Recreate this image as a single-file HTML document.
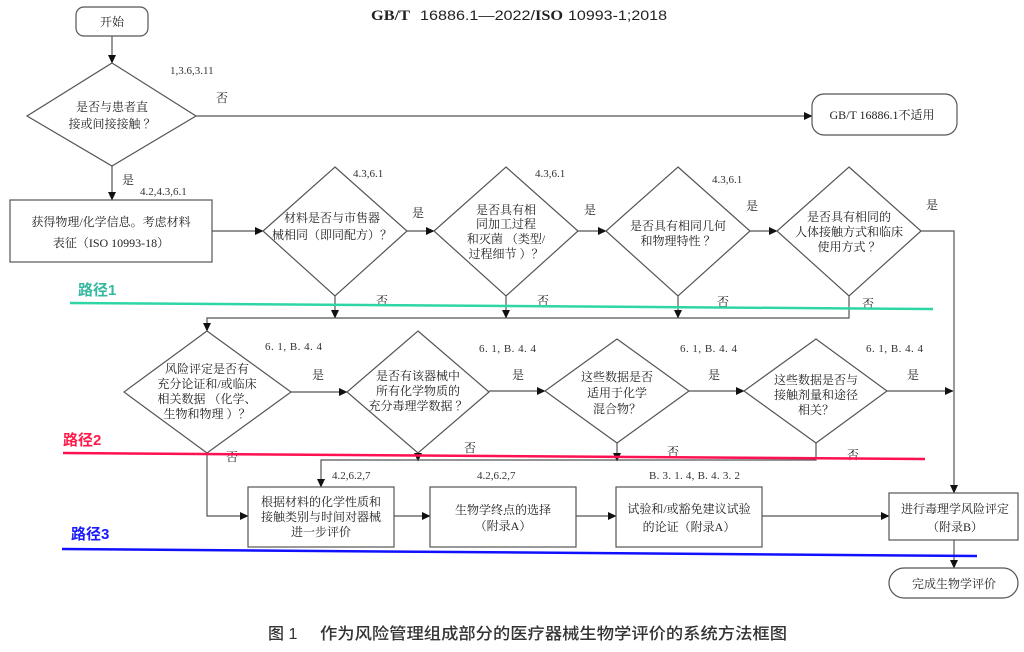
<!DOCTYPE html>
<html><head><meta charset="utf-8"><style>
html,body{margin:0;padding:0;background:#fff;}
svg{display:block;}
.t{font-family:"Liberation Serif","Noto Serif CJK SC",serif;font-size:12px;fill:#222;}
.n{font-family:"Liberation Serif","Noto Serif CJK SC",serif;font-size:11px;fill:#333;}
.l{stroke:#555;stroke-width:1.2;fill:none;}
.s{stroke:#555;stroke-width:1.2;fill:#fff;}
.p{font-family:"Liberation Sans","Noto Sans CJK SC",sans-serif;font-size:15px;font-weight:bold;}
.hs{font-family:"Liberation Sans",sans-serif;font-size:14px;fill:#222;}
.hb{font-family:"Liberation Serif",serif;font-size:15px;font-weight:bold;fill:#222;}
.cap{font-family:"Liberation Sans","Noto Sans CJK SC",sans-serif;font-size:16px;font-weight:500;fill:#333;}
</style></head><body>
<svg width="1024" height="652" viewBox="0 0 1024 652" xmlns="http://www.w3.org/2000/svg">
<defs>
<marker id="a" markerWidth="9" markerHeight="8" refX="8" refY="4" orient="auto" markerUnits="userSpaceOnUse">
<path d="M0,0 L8.5,4 L0,8 z" fill="#111"/></marker>
</defs>

<!-- header -->
<text x="371" y="20" class="hb" textLength="39" lengthAdjust="spacingAndGlyphs">GB/T</text>
<text x="420" y="20" class="hs" textLength="115" lengthAdjust="spacingAndGlyphs">16886.1—2022/</text>
<text x="535" y="20" class="hb" textLength="28" lengthAdjust="spacingAndGlyphs">ISO</text>
<text x="568" y="20" class="hs" textLength="99" lengthAdjust="spacingAndGlyphs">10993-1;2018</text>

<!-- start -->
<rect x="76" y="7" width="72" height="29" rx="8" class="s"/>
<text x="112" y="26" class="t" text-anchor="middle">开始</text>
<line x1="112" y1="36" x2="112" y2="63" class="l" marker-end="url(#a)"/>

<!-- D0 -->
<polygon points="112,63 196,116 112,166 27,116" class="s"/>
<text x="112" y="111" class="t" text-anchor="middle">是否与患者直</text>
<text x="112" y="128" class="t" text-anchor="middle">接或间接接触 ？</text>
<text x="170" y="74" class="n">1,3.6,3.11</text>
<text x="222" y="102" class="t" text-anchor="middle">否</text>
<line x1="196" y1="116" x2="812" y2="116" class="l" marker-end="url(#a)"/>

<!-- NA box -->
<rect x="812" y="94" width="145" height="41" rx="12" class="s"/>
<text x="882" y="119" class="t" text-anchor="middle">GB/T 16886.1不适用</text>

<line x1="112" y1="166" x2="112" y2="200" class="l" marker-end="url(#a)"/>
<text x="128" y="184" class="t" text-anchor="middle">是</text>
<text x="140" y="195" class="n">4.2,4.3,6.1</text>

<!-- Box0 -->
<rect x="10" y="200" width="202" height="62" class="s"/>
<text x="111" y="226" class="t" text-anchor="middle">获得物理/化学信息。考虑材料</text>
<text x="111" y="247" class="t" text-anchor="middle">表征（ISO 10993-18）</text>
<line x1="212" y1="231" x2="263" y2="231" class="l" marker-end="url(#a)"/>

<!-- D1 -->
<polygon points="335,167 407,231 335,296 263,231" class="s"/>
<text x="332" y="222" class="t" text-anchor="middle">材料是否与市售器</text>
<text x="332" y="239" class="t" text-anchor="middle">械相同（即同配方）？</text>
<text x="353" y="177" class="n">4.3,6.1</text>
<text x="418" y="217" class="t" text-anchor="middle">是</text>
<line x1="407" y1="231" x2="434" y2="231" class="l" marker-end="url(#a)"/>

<!-- D2 -->
<polygon points="506,167 578,231 506,296 434,231" class="s"/>
<text x="506" y="214" class="t" text-anchor="middle">是否具有相</text>
<text x="506" y="228" class="t" text-anchor="middle">同加工过程</text>
<text x="506" y="243" class="t" text-anchor="middle">和灭菌 （类型/</text>
<text x="506" y="258" class="t" text-anchor="middle">过程细节 ）？</text>
<text x="535" y="177" class="n">4.3,6.1</text>
<text x="590" y="214" class="t" text-anchor="middle">是</text>
<line x1="578" y1="231" x2="606" y2="231" class="l" marker-end="url(#a)"/>

<!-- D3 -->
<polygon points="678,167 750,231 678,296 606,231" class="s"/>
<text x="678" y="230" class="t" text-anchor="middle">是否具有相同几何</text>
<text x="678" y="245" class="t" text-anchor="middle">和物理特性 ？</text>
<text x="712" y="183" class="n">4.3,6.1</text>
<text x="752" y="210" class="t" text-anchor="middle">是</text>
<line x1="750" y1="231" x2="777" y2="231" class="l" marker-end="url(#a)"/>

<!-- D4 -->
<polygon points="849,167 921,231 849,296 777,231" class="s"/>
<text x="849" y="221" class="t" text-anchor="middle">是否具有相同的</text>
<text x="849" y="236" class="t" text-anchor="middle">人体接触方式和临床</text>
<text x="849" y="251" class="t" text-anchor="middle">使用方式 ？</text>
<text x="932" y="209" class="t" text-anchor="middle">是</text>
<polyline points="921,231 954,231 954,493" class="l" marker-end="url(#a)"/>

<!-- row1 no connectors -->
<line x1="335" y1="296" x2="335" y2="318" class="l" marker-end="url(#a)"/>
<line x1="506" y1="296" x2="506" y2="318" class="l" marker-end="url(#a)"/>
<line x1="678" y1="296" x2="678" y2="318" class="l" marker-end="url(#a)"/>
<polyline points="849,296 849,318 207,318 207,331" class="l" marker-end="url(#a)"/>
<text x="382" y="305" class="t" text-anchor="middle">否</text>
<text x="543" y="305" class="t" text-anchor="middle">否</text>
<text x="723" y="306" class="t" text-anchor="middle">否</text>
<text x="868" y="308" class="t" text-anchor="middle">否</text>

<!-- path 1 -->
<line x1="70" y1="303" x2="933" y2="309" stroke="#2ed6a6" stroke-width="2.5"/>
<text x="78" y="295" class="p" fill="#35b8a0">路径1</text>

<!-- D5 -->
<polygon points="207,331 291,392 207,453 124,392" class="s"/>
<text x="207" y="373" class="t" text-anchor="middle">风险评定是否有</text>
<text x="207" y="388" class="t" text-anchor="middle">充分论证和/或临床</text>
<text x="207" y="403" class="t" text-anchor="middle">相关数据 （化学、</text>
<text x="207" y="418" class="t" text-anchor="middle">生物和物理 ）？</text>
<text x="265" y="350" class="n" textLength="57" lengthAdjust="spacing">6. 1, B. 4. 4</text>
<text x="318" y="379" class="t" text-anchor="middle">是</text>
<line x1="291" y1="392" x2="347" y2="392" class="l" marker-end="url(#a)"/>

<!-- D6 -->
<polygon points="418,331 489,392 418,453 347,392" class="s"/>
<text x="418" y="380" class="t" text-anchor="middle">是否有该器械中</text>
<text x="418" y="395" class="t" text-anchor="middle">所有化学物质的</text>
<text x="418" y="410" class="t" text-anchor="middle">充分毒理学数据 ？</text>
<text x="479" y="352" class="n" textLength="57" lengthAdjust="spacing">6. 1, B. 4. 4</text>
<text x="518" y="379" class="t" text-anchor="middle">是</text>
<line x1="489" y1="391" x2="545" y2="391" class="l" marker-end="url(#a)"/>

<!-- D7 -->
<polygon points="617,339 689,391 617,443 545,391" class="s"/>
<text x="617" y="381" class="t" text-anchor="middle">这些数据是否</text>
<text x="617" y="397" class="t" text-anchor="middle">适用于化学</text>
<text x="617" y="413" class="t" text-anchor="middle">混合物？</text>
<text x="680" y="352" class="n" textLength="57" lengthAdjust="spacing">6. 1, B. 4. 4</text>
<text x="714" y="379" class="t" text-anchor="middle">是</text>
<line x1="689" y1="391" x2="744" y2="391" class="l" marker-end="url(#a)"/>

<!-- D8 -->
<polygon points="816,339 887,391 816,443 744,391" class="s"/>
<text x="816" y="384" class="t" text-anchor="middle">这些数据是否与</text>
<text x="816" y="399" class="t" text-anchor="middle">接触剂量和途径</text>
<text x="816" y="414" class="t" text-anchor="middle">相关？</text>
<text x="866" y="352" class="n" textLength="57" lengthAdjust="spacing">6. 1, B. 4. 4</text>
<text x="913" y="379" class="t" text-anchor="middle">是</text>
<line x1="887" y1="391" x2="953" y2="391" class="l" marker-end="url(#a)"/>

<!-- row2 no connectors -->
<line x1="418" y1="453" x2="418" y2="461" class="l" marker-end="url(#a)"/>
<line x1="617" y1="443" x2="617" y2="461" class="l" marker-end="url(#a)"/>
<polyline points="816,443 816,460 321,460 321,487" class="l" marker-end="url(#a)"/>
<polyline points="207,453 207,516 248,516" class="l" marker-end="url(#a)"/>
<text x="470" y="452" class="t" text-anchor="middle">否</text>
<text x="673" y="456" class="t" text-anchor="middle">否</text>
<text x="853" y="459" class="t" text-anchor="middle">否</text>
<text x="232" y="461" class="t" text-anchor="middle">否</text>

<!-- path 2 -->
<line x1="63" y1="453" x2="925" y2="459" stroke="#ff1050" stroke-width="2.5"/>
<text x="63" y="445" class="p" fill="#ff1a4a">路径2</text>

<!-- bottom boxes -->
<rect x="248" y="487" width="146" height="60" class="s"/>
<text x="321" y="506" class="t" text-anchor="middle">根据材料的化学性质和</text>
<text x="321" y="521" class="t" text-anchor="middle">接触类别与时间对器械</text>
<text x="321" y="536" class="t" text-anchor="middle">进一步评价</text>
<text x="332" y="479" class="n">4.2,6.2,7</text>
<line x1="394" y1="516" x2="430" y2="516" class="l" marker-end="url(#a)"/>

<rect x="430" y="487" width="146" height="60" class="s"/>
<text x="503" y="514" class="t" text-anchor="middle">生物学终点的选择</text>
<text x="503" y="530" class="t" text-anchor="middle">（附录A）</text>
<text x="477" y="479" class="n">4.2,6.2,7</text>
<line x1="576" y1="516" x2="616" y2="516" class="l" marker-end="url(#a)"/>

<rect x="616" y="487" width="146" height="60" class="s"/>
<text x="689" y="513" class="t" text-anchor="middle">试验和/或豁免建议试验</text>
<text x="689" y="531" class="t" text-anchor="middle">的论证（附录A）</text>
<text x="649" y="479" class="n" textLength="91" lengthAdjust="spacing">B. 3. 1. 4, B. 4. 3. 2</text>
<line x1="762" y1="516" x2="889" y2="516" class="l" marker-end="url(#a)"/>

<rect x="889" y="493" width="129" height="47" class="s"/>
<text x="955" y="513" class="t" text-anchor="middle">进行毒理学风险评定</text>
<text x="955" y="531" class="t" text-anchor="middle">（附录B）</text>
<line x1="954" y1="540" x2="954" y2="568" class="l" marker-end="url(#a)"/>

<rect x="889" y="568" width="129" height="30" rx="15" class="s"/>
<text x="954" y="588" class="t" text-anchor="middle">完成生物学评价</text>

<!-- path 3 -->
<line x1="62" y1="549" x2="977" y2="556" stroke="#1010ff" stroke-width="2.5"/>
<text x="71" y="539" class="p" fill="#1a1aff">路径3</text>

<!-- caption -->
<text x="268" y="639" class="cap">图 1</text>
<text x="320" y="639" class="cap" textLength="467" lengthAdjust="spacingAndGlyphs">作为风险管理组成部分的医疗器械生物学评价的系统方法框图</text>
</svg>
</body></html>
